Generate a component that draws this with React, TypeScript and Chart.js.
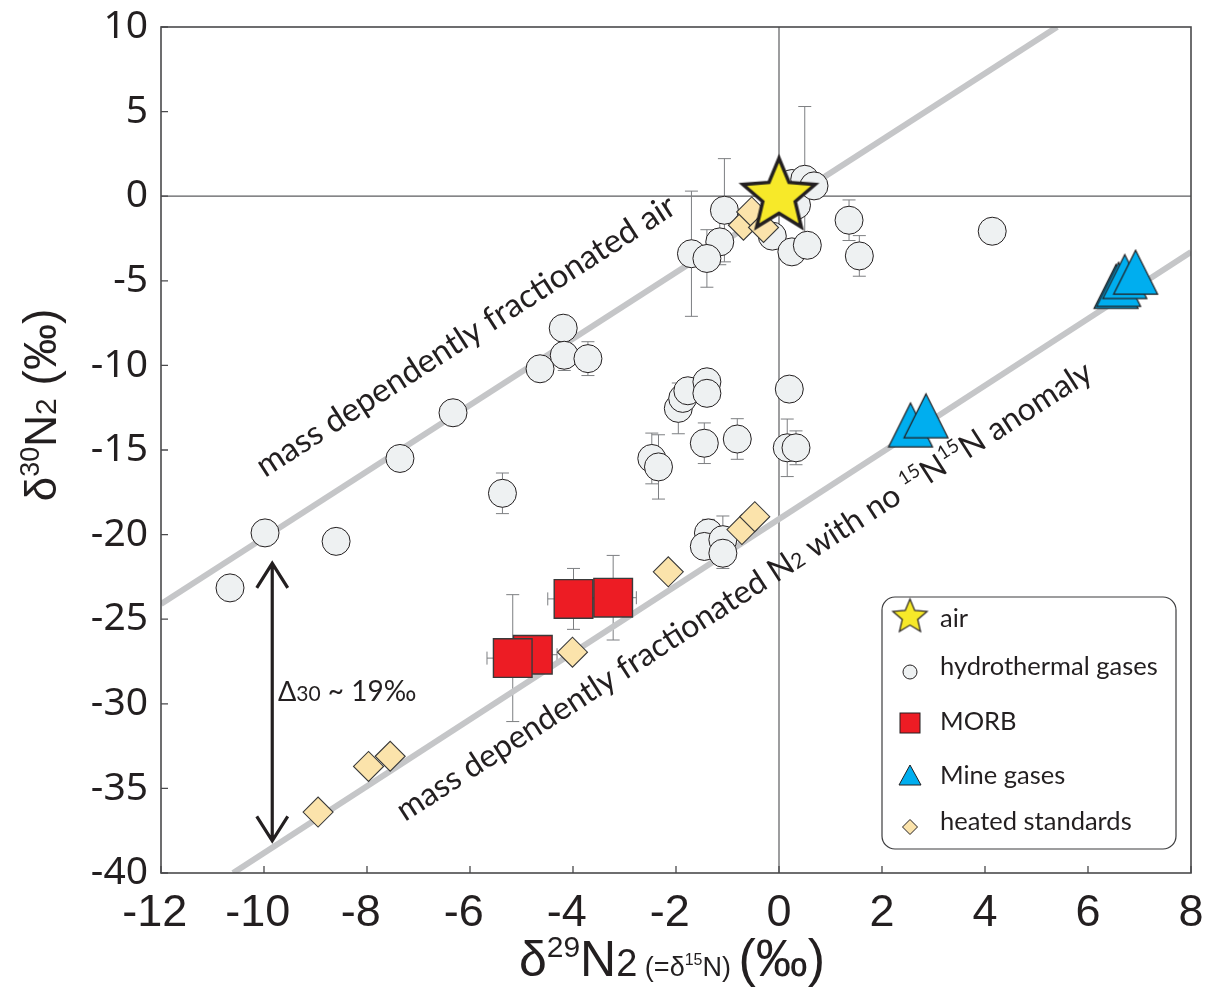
import React, { useEffect, useRef } from 'react';
import { Chart, registerables } from 'chart.js';

Chart.register(...registerables);

// ---------- data ----------
const X_TICKS = [-12, -10, -8, -6, -4, -2, 0, 2, 4, 6, 8];
const Y_TICKS = [10, 5, 0, -5, -10, -15, -20, -25, -30, -35, -40];

const airX = [0];
const airY = [0];

const hydroX = [-10.66, -9.98, -8.6, -7.36, -6.33, -5.37, -4.64, -4.19, -4.17, -3.71,
  -1.955, -1.87, -1.77, -1.4, -1.4, -1.45, -0.81, 0.2, 0.16, 0.33,
  -2.47, -2.34, -1.37, -1.45, -1.09, -1.09,
  -1.06, -1.15, -1.7, -1.4, -0.13, 0.25, 0.55, 0.25, 0.34, 0.5, 0.68, 1.36, 1.56, 4.14];
const hydroY = [-23.15, -19.9, -20.4, -15.5, -12.8, -17.56, -10.2, -7.8, -9.4, -9.6,
  -12.54, -11.95, -11.5, -10.97, -11.65, -14.6, -14.35, -11.4, -14.87, -14.87,
  -15.5, -16.0, -19.9, -20.7, -20.3, -21.1,
  -0.83, -2.7, -3.4, -3.68, -2.36, -3.29, -2.9, 0.75, -0.53, 1.0, 0.61, -1.42, -3.53, -2.07];
const hydroYErr = [0, 0, 0, 0, 0, 1.2, 0, 0, 0.9, 1.0,
  1.5, 0, 0, 0, 0, 1.2, 1.2, 0, 1.7, 1.0,
  1.5, 1.9, 0.8, 0, 1.4, 0.9,
  3.05, 1.35, 3.7, 1.7, 0, 0, 0, 0, 0, 4.3, 0, 1.2, 1.2, 0];

const morbX = [-3.99, -3.22, -4.78, -5.17];
const morbY = [-23.8, -23.73, -27.1, -27.3];
const morbXErr = [0.5, 0.45, 0.47, 0.5];
const morbYErr = [1.8, 2.5, 0.4, 3.75];

const mineX = [6.55, 6.6, 6.72, 6.93, 2.56, 2.86];
const mineY = [-5.35, -5.23, -4.77, -4.51, -13.54, -13.0];

const heatedX = [-8.95, -7.97, -7.55, -4.01, -2.15, -0.72, -0.47, -0.69, -0.53, -0.3];
const heatedY = [-36.4, -33.7, -33.1, -26.95, -22.2, -19.7, -18.94, -1.71, -0.93, -1.85];

const airLineX = [-12, 5.4];
const airLineY = [-24.1, 10];
const anomLineX = [-10.6, 8];
const anomLineY = [-40, -3.3];

// annotation anchors (data units)
const airTextAt = [-9.98, -16.66];
const anomTextAt = [-7.26, -36.98];
const arrowX = -9.84;
const arrowY = [-21.7, -38.1];
const deltaTextAt = [-9.73, -29.83];

const legendLabels = ['air', 'hydrothermal gases', 'MORB', 'Mine gases', 'heated standards'];

// ---------- styles ----------
const INK = '#231f20';
const HYDRO_FILL = '#eef1f2';
const MORB_FILL = '#ed1c24';
const MINE_FILL = '#00aeef';
const HEAT_FILL = '#fbe3ab';
const STAR_FILL = '#f7e929';
const LINE_GREY = '#c5c6c8';
const ERR_GREY = '#7d7f82';
const SANS = "Lato, 'Open Sans', sans-serif";
const TITLE = "'Liberation Sans', Arial, sans-serif";

function makeStar(R: number, ratio: number, fill: string, stroke: string, lw: number) {
  const pad = lw + 3;
  const size = Math.ceil(2 * R + 2 * pad);
  const c = document.createElement('canvas');
  c.width = size;
  c.height = size;
  const g = c.getContext('2d')!;
  const cx = size / 2;
  const cy = size / 2;
  g.beginPath();
  for (let i = 0; i < 10; i++) {
    const r = i % 2 === 0 ? R : R * ratio;
    const ang = -Math.PI / 2 + (i * Math.PI) / 5;
    const px = cx + r * Math.cos(ang);
    const py = cy + r * Math.sin(ang);
    if (i === 0) g.moveTo(px, py);
    else g.lineTo(px, py);
  }
  g.closePath();
  g.fillStyle = fill;
  g.fill();
  g.lineJoin = 'miter';
  g.lineWidth = lw;
  g.strokeStyle = stroke;
  g.stroke();
  return c;
}

function makeTri(w: number, h: number, fill: string, stroke: string, lw: number) {
  const pad = lw + 2;
  const c = document.createElement('canvas');
  c.width = Math.ceil(w + 2 * pad);
  c.height = Math.ceil(h + 2 * pad);
  const g = c.getContext('2d')!;
  g.beginPath();
  g.moveTo(pad + w / 2, pad);
  g.lineTo(pad + w, pad + h);
  g.lineTo(pad, pad + h);
  g.closePath();
  g.fillStyle = fill;
  g.fill();
  g.lineWidth = lw;
  g.strokeStyle = stroke;
  g.stroke();
  return c;
}

type Piece = { t: string; size: number; dy?: number };

function drawRich(ctx: CanvasRenderingContext2D, pieces: Piece[], family: string,
  x: number, y: number, angle: number, align: 'left' | 'center') {
  ctx.save();
  ctx.translate(x, y);
  ctx.rotate(angle);
  ctx.textAlign = 'left';
  ctx.textBaseline = 'alphabetic';
  ctx.fillStyle = INK;
  const widths = pieces.map((p) => {
    ctx.font = `${p.size}px ${family}`;
    return ctx.measureText(p.t).width;
  });
  const total = widths.reduce((s, v) => s + v, 0);
  let cx = align === 'center' ? -total / 2 : 0;
  pieces.forEach((p, i) => {
    ctx.font = `${p.size}px ${family}`;
    ctx.fillText(p.t, cx, p.dy || 0);
    cx += widths[i];
  });
  ctx.restore();
}

function toPts(xs: number[], ys: number[]) {
  return xs.map((x, i) => ({ x, y: ys[i] }));
}

export default function App() {
  const ref = useRef<HTMLCanvasElement | null>(null);

  useEffect(() => {
    const canvas = ref.current;
    if (!canvas) return;
    const bigStar = makeStar(38, 0.45, STAR_FILL, INK, 3.5);
    const smallStar = makeStar(18, 0.45, STAR_FILL, INK, 1.2);
    const bigTri = makeTri(44, 44, MINE_FILL, INK, 1.2);
    const smallTri = makeTri(22, 20, MINE_FILL, INK, 1);

    const decor = {
      id: 'decor',
      beforeDatasetsDraw(chart: any) {
        const { ctx, chartArea: a, scales } = chart;
        const xs = scales.x;
        const ys = scales.y;
        ctx.save();
        // zero lines
        ctx.strokeStyle = '#5d5e60';
        ctx.lineWidth = 1.2;
        const x0 = xs.getPixelForValue(0);
        const y0 = ys.getPixelForValue(0);
        ctx.beginPath();
        ctx.moveTo(x0, a.top);
        ctx.lineTo(x0, a.bottom);
        ctx.moveTo(a.left, y0);
        ctx.lineTo(a.right, y0);
        ctx.stroke();
        // error bars
        ctx.strokeStyle = ERR_GREY;
        ctx.lineWidth = 1;
        const cap = 6.5;
        const vbar = (x: number, y: number, e: number) => {
          if (!e) return;
          const px = xs.getPixelForValue(x);
          const p1 = ys.getPixelForValue(y + e);
          const p2 = ys.getPixelForValue(y - e);
          ctx.beginPath();
          ctx.moveTo(px, p1);
          ctx.lineTo(px, p2);
          ctx.moveTo(px - cap, p1);
          ctx.lineTo(px + cap, p1);
          ctx.moveTo(px - cap, p2);
          ctx.lineTo(px + cap, p2);
          ctx.stroke();
        };
        const hbar = (x: number, y: number, e: number) => {
          if (!e) return;
          const py = ys.getPixelForValue(y);
          const p1 = xs.getPixelForValue(x - e);
          const p2 = xs.getPixelForValue(x + e);
          ctx.beginPath();
          ctx.moveTo(p1, py);
          ctx.lineTo(p2, py);
          ctx.moveTo(p1, py - cap);
          ctx.lineTo(p1, py + cap);
          ctx.moveTo(p2, py - cap);
          ctx.lineTo(p2, py + cap);
          ctx.stroke();
        };
        hydroX.forEach((x, i) => vbar(x, hydroY[i], hydroYErr[i]));
        morbX.forEach((x, i) => {
          vbar(x, morbY[i], morbYErr[i]);
          hbar(x, morbY[i], morbXErr[i]);
        });
        ctx.restore();
      },
      afterDatasetsDraw(chart: any) {
        const { ctx, chartArea: a, scales } = chart;
        const xs = scales.x;
        const ys = scales.y;
        ctx.save();
        // frame
        ctx.strokeStyle = '#4a4a4c';
        ctx.lineWidth = 1.6;
        ctx.strokeRect(a.left, a.top, a.right - a.left, a.bottom - a.top);
        // inward ticks
        ctx.lineWidth = 1.3;
        ctx.beginPath();
        Y_TICKS.forEach((v) => {
          const p = ys.getPixelForValue(v);
          ctx.moveTo(a.left, p);
          ctx.lineTo(a.left + 7, p);
        });
        X_TICKS.forEach((v) => {
          const p = xs.getPixelForValue(v);
          ctx.moveTo(p, a.bottom);
          ctx.lineTo(p, a.bottom - 7);
        });
        ctx.stroke();

        // line angle
        const lx1 = xs.getPixelForValue(airLineX[0]);
        const ly1 = ys.getPixelForValue(airLineY[0]);
        const lx2 = xs.getPixelForValue(airLineX[1]);
        const ly2 = ys.getPixelForValue(airLineY[1]);
        const ang = Math.atan2(ly2 - ly1, lx2 - lx1);

        drawRich(ctx, [{ t: 'mass dependently fractionated air', size: 33 }], SANS,
          xs.getPixelForValue(airTextAt[0]), ys.getPixelForValue(airTextAt[1]), ang, 'left');
        drawRich(ctx, [
          { t: 'mass dependently fractionated N', size: 32 },
          { t: '2', size: 21 },
          { t: ' with no ', size: 32 },
          { t: '15', size: 19, dy: -13 },
          { t: 'N', size: 32 },
          { t: '15', size: 19, dy: -13 },
          { t: 'N anomaly', size: 32 },
        ], SANS, xs.getPixelForValue(anomTextAt[0]), ys.getPixelForValue(anomTextAt[1]), ang, 'left');

        // double arrow
        const ax = xs.getPixelForValue(arrowX);
        const at = ys.getPixelForValue(arrowY[0]);
        const ab = ys.getPixelForValue(arrowY[1]);
        ctx.strokeStyle = INK;
        ctx.lineWidth = 3.2;
        ctx.lineCap = 'butt';
        ctx.lineJoin = 'miter';
        ctx.beginPath();
        ctx.moveTo(ax, at + 1);
        ctx.lineTo(ax, ab - 1);
        ctx.moveTo(ax - 15.5, at + 24.5);
        ctx.lineTo(ax, at);
        ctx.lineTo(ax + 15.5, at + 24.5);
        ctx.moveTo(ax - 15.5, ab - 24.5);
        ctx.lineTo(ax, ab);
        ctx.lineTo(ax + 15.5, ab - 24.5);
        ctx.stroke();
        drawRich(ctx, [
          { t: 'Δ', size: 27 },
          { t: '30', size: 21 },
          { t: ' ~ 19‰', size: 28 },
        ], SANS, xs.getPixelForValue(deltaTextAt[0]), ys.getPixelForValue(deltaTextAt[1]), 0, 'left');
        ctx.restore();
      },
      afterDraw(chart: any) {
        const { ctx, chartArea: a } = chart;
        ctx.save();
        // legend box
        const L = { left: a.right - 309, top: a.top + 570, w: 294, h: 252 };
        ctx.strokeStyle = '#3c3c3e';
        ctx.lineWidth = 1.2;
        ctx.beginPath();
        (ctx as any).roundRect(L.left, L.top, L.w, L.h, 13);
        ctx.stroke();
        const mx = L.left + 28;
        const tx = L.left + 58;
        const marks = [20, 75, 126, 178, 230];
        const bases = [30, 78, 133, 187, 233];
        ctx.drawImage(smallStar, mx - smallStar.width / 2, L.top + marks[0] - smallStar.height / 2);
        ctx.beginPath();
        ctx.arc(mx, L.top + marks[1], 7, 0, Math.PI * 2);
        ctx.fillStyle = HYDRO_FILL;
        ctx.fill();
        ctx.lineWidth = 1;
        ctx.strokeStyle = INK;
        ctx.stroke();
        ctx.fillStyle = MORB_FILL;
        ctx.fillRect(mx - 10, L.top + marks[2] - 10, 20, 20);
        ctx.strokeRect(mx - 10, L.top + marks[2] - 10, 20, 20);
        ctx.drawImage(smallTri, mx - smallTri.width / 2, L.top + marks[3] - smallTri.height / 2);
        ctx.beginPath();
        const dy = L.top + marks[4];
        ctx.moveTo(mx - 7.5, dy);
        ctx.lineTo(mx, dy - 7.5);
        ctx.lineTo(mx + 7.5, dy);
        ctx.lineTo(mx, dy + 7.5);
        ctx.closePath();
        ctx.fillStyle = HEAT_FILL;
        ctx.fill();
        ctx.stroke();
        ctx.fillStyle = INK;
        ctx.font = `25.5px ${SANS}`;
        ctx.textAlign = 'left';
        ctx.textBaseline = 'alphabetic';
        legendLabels.forEach((t, i) => ctx.fillText(t, tx, L.top + bases[i]));

        // axis titles
        drawRich(ctx, [
          { t: 'δ', size: 50 },
          { t: '29', size: 30, dy: -19 },
          { t: 'N', size: 50 },
          { t: '2', size: 38 },
          { t: ' (=δ', size: 27 },
          { t: '15', size: 16, dy: -11 },
          { t: 'N) ', size: 27 },
          { t: '(‰)', size: 52 },
        ], TITLE, 672, 976, 0, 'center');
        drawRich(ctx, [
          { t: 'δ', size: 44 },
          { t: '30', size: 27, dy: -17 },
          { t: 'N', size: 44 },
          { t: '2', size: 30 },
          { t: ' (‰)', size: 46 },
        ], TITLE, 56, 405, -Math.PI / 2, 'center');
        ctx.restore();
      },
    };

    const chart = new Chart(canvas, {
      type: 'scatter',
      data: {
        datasets: [
          {
            label: 'air',
            data: toPts(airX, airY),
            pointStyle: bigStar as any,
            pointRadius: 38,
            backgroundColor: STAR_FILL,
            borderColor: INK,
          },
          {
            label: 'heated standards',
            data: toPts(heatedX, heatedY),
            pointStyle: 'rectRot',
            pointRadius: 15,
            backgroundColor: HEAT_FILL,
            borderColor: '#3a3a3a',
            borderWidth: 1.1,
          },
          {
            label: 'MORB',
            data: toPts(morbX, morbY),
            pointStyle: 'rect',
            pointRadius: 27.3,
            backgroundColor: MORB_FILL,
            borderColor: '#3a3a3a',
            borderWidth: 1.4,
          },
          {
            label: 'Mine gases',
            data: toPts(mineX, mineY),
            pointStyle: bigTri as any,
            pointRadius: 22,
            backgroundColor: MINE_FILL,
            borderColor: INK,
          },
          {
            label: 'hydrothermal gases',
            data: toPts(hydroX, hydroY),
            pointStyle: 'circle',
            pointRadius: 14,
            backgroundColor: HYDRO_FILL,
            borderColor: INK,
            borderWidth: 1,
          },
          {
            label: 'air line',
            data: toPts(airLineX, airLineY),
            showLine: true,
            pointRadius: 0,
            borderColor: LINE_GREY,
            borderWidth: 6,
            clip: 0,
          } as any,
          {
            label: 'anomaly line',
            data: toPts(anomLineX, anomLineY),
            showLine: true,
            pointRadius: 0,
            borderColor: LINE_GREY,
            borderWidth: 6,
            clip: 0,
          } as any,
        ],
      },
      options: {
        animation: false,
        responsive: false,
        events: [],
        layout: { autoPadding: false, padding: { top: 27, right: 20, left: 0, bottom: 0 } },
        plugins: { legend: { display: false }, tooltip: { enabled: false } },
        scales: {
          x: {
            type: 'linear',
            min: X_TICKS[0],
            max: X_TICKS[X_TICKS.length - 1],
            afterFit: (s: any) => {
              s.height = 116;
              s.paddingLeft = 0;
              s.paddingRight = 0;
            },
            grid: { display: false, drawTicks: false },
            border: { display: false },
            ticks: {
              stepSize: 2,
              padding: 14,
              color: INK,
              maxRotation: 0,
              font: { family: TITLE, size: 45, lineHeight: 1.2 },
              callback: (v: any) => (Number(v) < 0 ? `${v} ` : `${v}`),
            },
          },
          y: {
            type: 'linear',
            min: Y_TICKS[Y_TICKS.length - 1],
            max: Y_TICKS[0],
            afterFit: (s: any) => {
              s.width = 161;
              s.paddingTop = 0;
              s.paddingBottom = 0;
            },
            grid: { display: false, drawTicks: false },
            border: { display: false },
            ticks: {
              stepSize: 5,
              padding: 13,
              color: INK,
              font: { family: "'Noto Sans', 'Open Sans', sans-serif", size: 39, lineHeight: 1.2 },
            },
          },
        },
      },
      plugins: [decor],
    } as any);
    return () => chart.destroy();
  }, []);

  return (
    <div style={{ position: 'absolute', left: 0, top: 0, width: 1211, height: 989, background: '#fff' }}>
      <canvas ref={ref} width={1211} height={989} style={{ display: 'block' }} />
    </div>
  );
}
